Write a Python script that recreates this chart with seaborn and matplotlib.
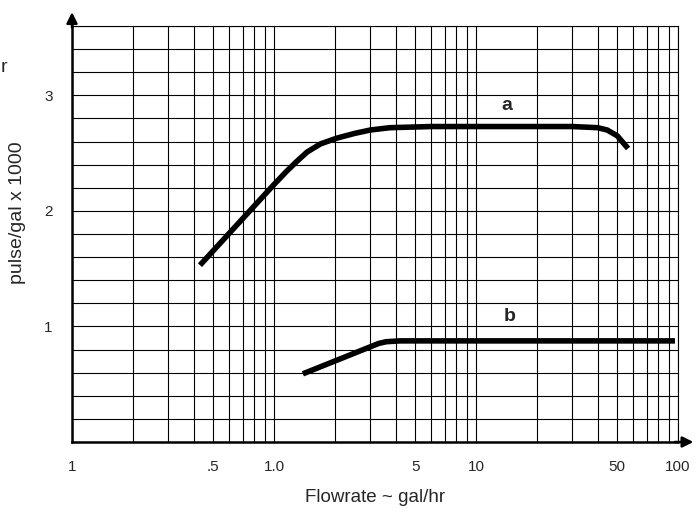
import numpy as np
import pandas as pd
import matplotlib
matplotlib.use("Agg")
import matplotlib.pyplot as plt
import seaborn as sns

# curve "a"
a_flow = [0.43, 0.99, 1.15, 1.30, 1.46, 1.7, 2.05, 2.5, 3.0, 3.75, 6.0, 10.0, 20.0, 30.0, 40.0, 44.6, 50.0, 56.6]
a_pulse = [1.53, 2.22, 2.34, 2.43, 2.51, 2.58, 2.63, 2.67, 2.70, 2.72, 2.73, 2.73, 2.73, 2.73, 2.72, 2.70, 2.65, 2.54]

# curve "b"
b_flow = [1.39, 3.06, 3.3, 3.6, 4.2, 96.6]
b_pulse = [0.59, 0.83, 0.853, 0.868, 0.875, 0.875]

x_ticks = [0.1, 0.5, 1.0, 5, 10, 50, 100]
x_ticklabels = ["1", ".5", "1.0", "5", "10", "50", "100"]
y_ticks = [1, 2, 3]
y_ticklabels = ["1", "2", "3"]

df = pd.concat([
    pd.DataFrame({"flow": a_flow, "pulse": a_pulse, "curve": "a"}),
    pd.DataFrame({"flow": b_flow, "pulse": b_pulse, "curve": "b"}),
])

sns.set_style("white")
plt.rcParams["font.family"] = ["Liberation Sans", "DejaVu Sans"]

fig = plt.figure(figsize=(6.97, 5.14), dpi=100)
ax = fig.add_axes([72 / 697, 1 - 442 / 514, (678 - 72) / 697, (442 - 26) / 514])

sns.lineplot(data=df, x="flow", y="pulse", units="curve", estimator=None, sort=False,
             color="black", lw=4, ax=ax, solid_capstyle="butt")

ax.set_xscale("log")
ax.set_xlim(0.1, 100)
ax.set_ylim(0, 3.6)

# log grid: every integer step in each decade
minor_x = [m * 10.0 ** d for d in (-1, 0, 1) for m in range(1, 10)] + [100]
ax.set_xticks(minor_x, minor=True)
ax.set_xticks(x_ticks)
ax.set_xticklabels(x_ticklabels, fontsize=11)
ax.set_yticks(np.arange(0, 3.61, 0.2), minor=True)
ax.set_yticks(y_ticks)
ax.set_yticklabels(y_ticklabels, fontsize=11)
ax.tick_params(which="both", length=0)
ax.tick_params(axis="x", pad=13)
ax.tick_params(axis="y", pad=14)
ax.grid(which="both", color="black", lw=0.8)

for side in ["top", "right"]:
    ax.spines[side].set_linewidth(0.8)
    ax.spines[side].set_color("black")
for side in ["left", "bottom"]:
    ax.spines[side].set_linewidth(1.8)
    ax.spines[side].set_color("black")

# axis arrows
ax.annotate("", xy=(0, 1.04), xytext=(0, 0.99), xycoords="axes fraction",
            arrowprops=dict(arrowstyle="-|>", color="black", lw=1.8, mutation_scale=16),
            annotation_clip=False)
ax.annotate("", xy=(1.03, 0), xytext=(0.99, 0), xycoords="axes fraction",
            arrowprops=dict(arrowstyle="-|>", color="black", lw=1.8, mutation_scale=16),
            annotation_clip=False)

ax.text(14.2, 2.91, "a", fontsize=14, fontweight="bold", ha="center", va="center")
ax.text(14.6, 1.09, "b", fontsize=14, fontweight="bold", ha="center", va="center")

ax.set_xlabel("")
ax.set_ylabel("")
fig.text(375 / 697, 1 - 497 / 514, "Flowrate ~ gal/hr", fontsize=13.5, ha="center", va="center")
fig.text(18 / 697, 1 - 213 / 514, "pulse/gal x 1000", fontsize=14, rotation=90,
         ha="center", va="center")

fig.text(1 / 697, 1 - 68 / 514, "r", fontsize=14, va="center")

fig.savefig("out.png", dpi=100)
